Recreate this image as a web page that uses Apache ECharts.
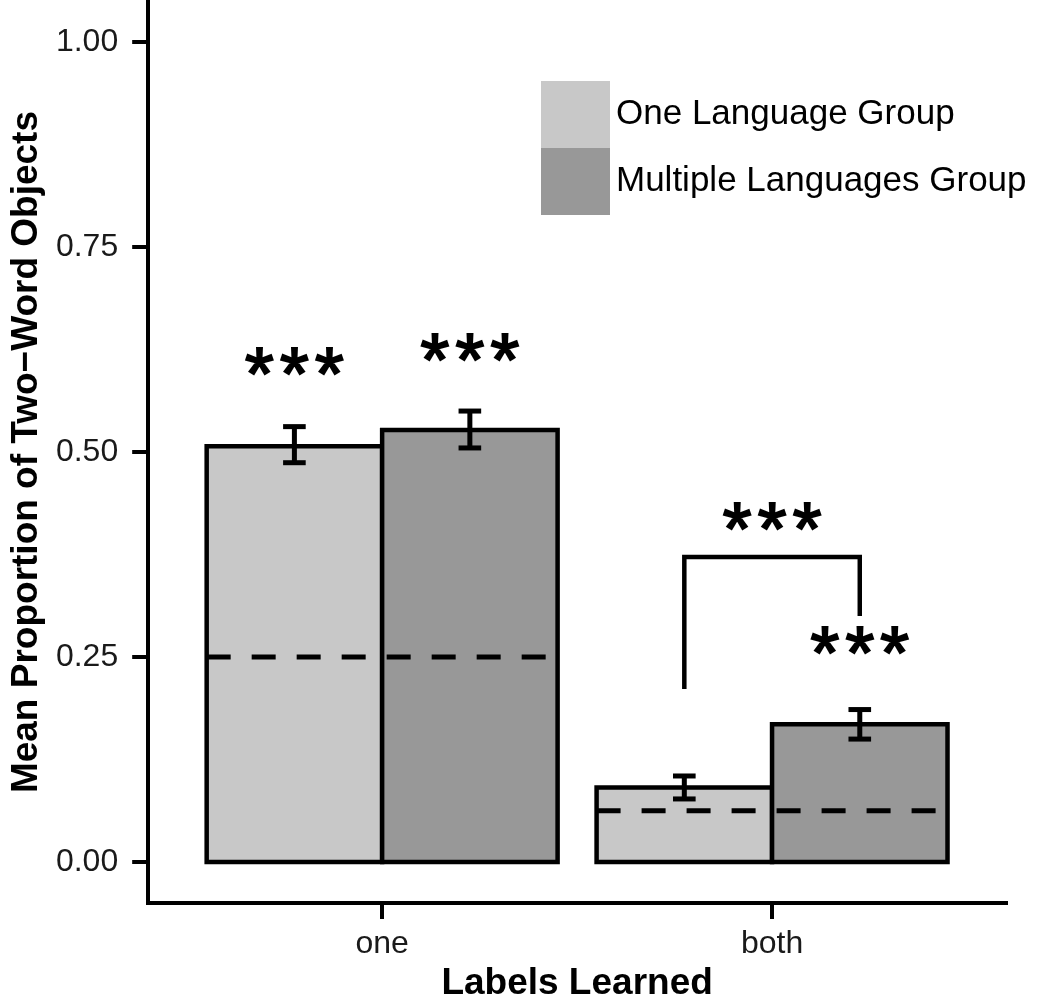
<!DOCTYPE html>
<html>
<head>
<meta charset="utf-8">
<title>Two-word objects</title>
<script src="https://cdn.jsdelivr.net/npm/echarts@6/dist/echarts.min.js"></script>
<style>
    html, body { margin: 0; padding: 0; background: #fff; }
    #chart { width: 1050px; height: 1007px; }
</style>
</head>
<body>
<div id="chart"></div>
<script>
    // data
    var categories = ['one', 'both'];
    var groupNames = ['One Language Group', 'Multiple Languages Group'];
    var oneLangMean = [0.507, 0.091];
    var oneLangLow = [0.487, 0.077];
    var oneLangHigh = [0.531, 0.105];
    var multiLangMean = [0.527, 0.168];
    var multiLangLow = [0.505, 0.150];
    var multiLangHigh = [0.550, 0.186];
    var chanceLevel = [0.25, 0.0625];
    var yTicks = [0, 0.25, 0.5, 0.75, 1];
    // significance marks (x, y of the glyph centre) and the comparison bracket
    var starMarks = [[0.775, 0.610], [1.225, 0.627], [2.0, 0.421], [2.225, 0.270]];
    var bracketPath = [[1.775, 0.211], [1.775, 0.372], [2.225, 0.372], [2.225, 0.300]];

    var font = 'Liberation Sans, Arial, Helvetica, sans-serif';
    var dodge = 0.225;   // half of a bar, in category units
    var capHalf = 0.029; // error bar cap half width

    function barSeries(name, color, side, means, lows, highs) {
        return {
            name: name,
            type: 'custom',
            itemStyle: {color: color},
            data: categories.map(function (c, i) {
                return [i + 1, means[i], lows[i], highs[i]];
            }),
            encode: {x: 0, y: [1, 2, 3]},
            renderItem: function (params, api) {
                var cx = api.value(0) + side * dodge;
                var tl = api.coord([cx - dodge, api.value(1)]);
                var br = api.coord([cx + dodge, 0]);
                var lo = api.coord([cx, api.value(2)]);
                var hi = api.coord([cx, api.value(3)]);
                var capL = api.coord([cx - capHalf, 0])[0];
                var capR = api.coord([cx + capHalf, 0])[0];
                var ink = {stroke: '#000', lineWidth: 5};
                return {
                    type: 'group',
                    children: [
                        {type: 'rect', shape: {x: tl[0], y: tl[1], width: br[0] - tl[0], height: br[1] - tl[1]},
                            style: {fill: color, stroke: '#000', lineWidth: 4.5}},
                        {type: 'line', shape: {x1: lo[0], y1: lo[1], x2: hi[0], y2: hi[1]}, style: ink},
                        {type: 'line', shape: {x1: capL, y1: lo[1], x2: capR, y2: lo[1]}, style: ink},
                        {type: 'line', shape: {x1: capL, y1: hi[1], x2: capR, y2: hi[1]}, style: ink}
                    ]
                };
            }
        };
    }

    var chart = echarts.init(document.getElementById('chart'));
    var option = {
        animation: false,
        grid: {left: 143, right: 44, top: 1, bottom: 102},
        legend: {
            data: groupNames,
            orient: 'vertical',
            left: 536,
            top: 76,
            icon: 'rect',
            itemWidth: 69,
            itemHeight: 67,
            itemGap: 0,
            itemStyle: {borderWidth: 0},
            textStyle: {fontSize: 35, color: '#000', fontFamily: font, padding: [10, 0, 0, 1]}
        },
        xAxis: {
            type: 'value',
            min: 0.4,
            max: 2.6,
            name: 'Labels Learned',
            nameLocation: 'middle',
            nameGap: 58,
            nameTextStyle: {fontSize: 37, fontWeight: 'bold', color: '#000', fontFamily: font},
            axisLine: {show: true, onZero: false, lineStyle: {color: '#000', width: 4, cap: 'square'}},
            axisTick: {show: true, length: 16, customValues: [1, 2], lineStyle: {color: '#000', width: 4}},
            axisLabel: {
                customValues: [1, 2],
                margin: 25,
                fontSize: 32,
                color: '#1a1a1a',
                fontFamily: font,
                formatter: function (v) { return categories[Math.round(v) - 1]; }
            },
            splitLine: {show: false}
        },
        yAxis: {
            type: 'value',
            min: -0.05,
            max: 1.05,
            name: 'Mean Proportion of Two\u2212Word Objects',
            nameLocation: 'middle',
            nameGap: 100,
            nameTextStyle: {fontSize: 37, fontWeight: 'bold', color: '#000', fontFamily: font},
            axisLine: {show: true, onZero: false, lineStyle: {color: '#000', width: 4, cap: 'square'}},
            axisTick: {show: true, length: 16, customValues: yTicks, lineStyle: {color: '#000', width: 4}},
            axisLabel: {
                customValues: yTicks,
                margin: 30,
                fontSize: 32,
                color: '#1a1a1a',
                fontFamily: font,
                formatter: function (v) { return v.toFixed(2); }
            },
            splitLine: {show: false}
        },
        series: [
            barSeries(groupNames[0], '#c8c8c8', -1, oneLangMean, oneLangLow, oneLangHigh),
            barSeries(groupNames[1], '#989898', 1, multiLangMean, multiLangLow, multiLangHigh),
            {
                // chance level per category
                name: 'chance',
                type: 'custom',
                silent: true,
                data: categories.map(function (c, i) { return [i + 1, chanceLevel[i]]; }),
                encode: {x: 0, y: 1},
                renderItem: function (params, api) {
                    var a = api.coord([api.value(0) - 2 * dodge, api.value(1)]);
                    var b = api.coord([api.value(0) + 2 * dodge, api.value(1)]);
                    return {
                        type: 'line',
                        shape: {x1: a[0], y1: a[1], x2: b[0], y2: b[1]},
                        style: {stroke: '#000', lineWidth: 5, lineDash: [24, 21]}
                    };
                }
            },
            {
                name: 'bracket',
                type: 'line',
                data: bracketPath,
                showSymbol: false,
                symbol: 'none',
                silent: true,
                lineStyle: {color: '#000', width: 4.5, join: 'miter'}
            },
            {
                name: 'stars',
                type: 'custom',
                silent: true,
                data: starMarks,
                encode: {x: 0, y: 1},
                renderItem: function (params, api) {
                    var p = api.coord([api.value(0), api.value(1)]);
                    return {
                        type: 'text',
                        x: p[0],
                        y: p[1] + 17,
                        style: {
                            text: '*\u200A*\u200A*',
                            fontSize: 74,
                            fontFamily: font,
                            fill: '#000',
                            stroke: '#000',
                            lineWidth: 2,
                            align: 'center',
                            verticalAlign: 'middle'
                        }
                    };
                }
            }
        ]
    };
    chart.setOption(option);
</script>
</body>
</html>
